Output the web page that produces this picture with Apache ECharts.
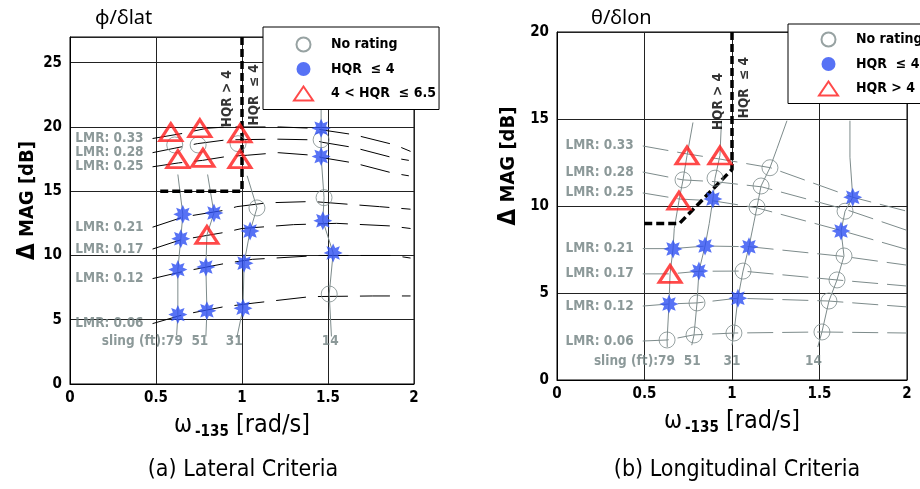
<!DOCTYPE html>
<html><head><meta charset="utf-8">
<script src="https://cdn.jsdelivr.net/npm/echarts@6/dist/echarts.min.js"></script>
<style>html,body{margin:0;padding:0;background:#fff}#c{width:920px;height:489px}</style>
</head><body><div id="c"></div>
<script>
// ---------- tick labels ----------
const xTicks = [0, 0.5, 1, 1.5, 2];
const xTickLabels = ['0', '0.5', '1', '1.5', '2'];
const yTicksLat = [0, 5, 10, 15, 20, 25];
const yTicksLon = [0, 5, 10, 15, 20];

// ---------- text ----------
const lmrNames = ['LMR: 0.33', 'LMR: 0.28', 'LMR: 0.25', 'LMR: 0.21', 'LMR: 0.17', 'LMR: 0.12', 'LMR: 0.06'];
const slingNames = ['sling (ft):79', '51', '31', '14'];
const hqrNames = ['HQR > 4', 'HQR  \u2264 4'];

// ---------- (a) lateral ----------
const latNoRating = [[0.609,18.6],[0.745,18.6],[0.977,18.7],[1.46,19.0],[1.087,13.7],[1.477,14.5],[1.507,7.0]];
const latHQR4 = [[1.46,19.9],[1.46,17.7],[0.656,13.2],[0.837,13.3],[0.644,11.3],[1.047,11.9],[1.47,12.7],[1.53,10.2],
                 [0.627,8.9],[0.79,9.1],[1.012,9.4],[0.627,5.4],[0.796,5.7],[1.006,5.9]];
const latHQR65 = [[0.586,19.6],[0.755,19.9],[0.988,19.5],[0.627,17.5],[0.773,17.6],[0.988,17.5],[0.796,11.6]];

const latLMR033 = [[0.48,19.1],[0.656,19.5],[0.796,19.9],[0.91,20.0],[1.22,20.0],[1.41,19.9],[1.5,19.7],[1.65,19.4],[1.89,18.6],[1.98,18.1]];
const latLMR028 = [[0.48,18.0],[0.61,18.35],[0.74,18.7],[0.91,19.0],[1.21,19.05],[1.41,19.0],[1.47,18.8],[1.65,18.4],[1.88,17.6],[1.97,17.4]];
const latLMR025 = [[0.48,16.9],[0.63,17.2],[0.77,17.4],[0.91,17.7],[1.03,17.8],[1.21,18.0],[1.41,17.8],[1.47,17.6],[1.65,17.2],[1.88,16.4],[1.97,16.2]];
const latLMR021 = [[0.48,12.2],[0.66,13.0],[0.89,13.5],[0.97,13.8],[1.15,14.1],[1.41,14.2],[1.8,13.8],[1.98,13.6]];
const latLMR017 = [[0.48,10.5],[0.64,11.2],[0.9,11.8],[1.0,12.1],[1.3,12.4],[1.55,12.5],[1.86,12.3],[1.98,12.1]];
const latLMR012 = [[0.48,8.2],[0.64,8.7],[0.91,9.4],[1.06,9.7],[1.45,10.0],[1.88,10.0],[1.98,9.8]];
const latLMR006 = [[0.48,4.7],[0.66,5.4],[0.89,6.0],[1.07,6.3],[1.40,6.8],[1.76,6.85],[1.98,6.85]];

const latSling79 = [[0.62,3.8],[0.627,5.4],[0.627,8.9],[0.644,11.3],[0.656,13.2],[0.627,16.3]];
const latSling51 = [[0.79,3.7],[0.796,5.7],[0.79,9.1],[0.796,11.6],[0.837,13.3],[0.80,16.3]];
const latSling31 = [[0.97,3.6],[1.006,5.9],[1.012,9.4],[1.047,11.9],[1.087,13.7],[1.03,16.2]];
const latSling14 = [[1.52,3.7],[1.507,7.0],[1.53,10.2],[1.47,12.7],[1.477,14.5],[1.46,17.7],[1.46,21.5]];

const latBoundary = [[1.0,27],[1.0,15],[0.5,15]];

const latLMRLabelAt = [[0.48,19.1],[0.48,18.0],[0.48,16.9],[0.48,12.2],[0.48,10.5],[0.48,8.2],[0.48,4.7]];
const latSlingLabelAt = [[0.656,3.27],[0.755,3.27],[0.955,3.27],[1.513,3.27]];
const latHQRLabelAt = [[0.918,22.2],[1.07,22.5]];

// ---------- (b) longitudinal ----------
const lonNoRating = [[0.72,11.5],[0.903,11.6],[1.217,12.2],[1.166,11.15],[1.143,9.94],[1.646,9.7],[1.64,7.13],[1.6,5.75],
                     [1.554,4.54],[1.514,2.76],[1.063,6.26],[0.8,4.43],[0.629,2.3],[0.783,2.59],[1.011,2.7]];
const lonHQR4 = [[0.891,10.4],[1.69,10.5],[1.623,8.56],[0.663,7.53],[0.846,7.7],[1.097,7.66],[0.811,6.26],[0.64,4.37],[1.034,4.7]];
const lonHQRgt4 = [[0.743,12.9],[0.931,12.9],[0.697,10.3],[0.646,6.1]];

const lonLMR033 = [[0.49,13.45],[0.74,13.0],[0.93,12.7],[1.22,12.2],[1.69,10.5],[2.0,9.7]];
const lonLMR028 = [[0.49,11.95],[0.72,11.5],[0.9,11.4],[1.17,11.1],[1.65,9.8],[2.0,8.6]];
const lonLMR025 = [[0.49,10.75],[0.7,10.4],[0.89,10.3],[1.14,9.9],[1.62,8.6],[2.0,7.5]];
const lonLMR021 = [[0.49,7.55],[0.66,7.55],[0.85,7.7],[1.1,7.66],[1.64,7.1],[2.0,6.6]];
const lonLMR017 = [[0.49,6.1],[0.65,6.1],[0.81,6.25],[1.06,6.26],[1.6,5.75],[2.0,5.4]];
const lonLMR012 = [[0.49,4.25],[0.64,4.37],[0.8,4.43],[1.03,4.7],[1.55,4.54],[2.0,4.2]];
const lonLMR006 = [[0.49,2.24],[0.63,2.3],[0.78,2.59],[1.01,2.7],[1.51,2.76],[2.0,2.7]];

const lonSling79 = [[0.63,1.9],[0.629,2.3],[0.64,4.37],[0.646,6.1],[0.663,7.53],[0.67,8.7],[0.697,10.3],[0.72,11.5],[0.743,12.9],[0.777,14.8]];
const lonSling51 = [[0.77,2.0],[0.783,2.59],[0.8,4.43],[0.811,6.26],[0.846,7.7],[0.87,9.0],[0.891,10.4],[0.903,11.6],[0.931,12.9],[0.94,14.9]];
const lonSling31 = [[1.0,2.0],[1.011,2.7],[1.034,4.7],[1.063,6.26],[1.097,7.66],[1.12,8.8],[1.143,9.94],[1.166,11.15],[1.217,12.2],[1.257,13.3],[1.314,14.9]];
const lonSling14 = [[1.49,1.9],[1.514,2.76],[1.554,4.54],[1.6,5.75],[1.64,7.13],[1.623,8.56],[1.646,9.7],[1.69,10.5],[1.674,12.8],[1.674,14.9]];

const lonBoundary = [[1.0,20],[1.0,12.1],[0.7,9.0],[0.49,9.0]];

const lonLMRLabelAt = [[0.49,13.45],[0.49,11.95],[0.49,10.75],[0.49,7.55],[0.49,6.1],[0.49,4.25],[0.49,2.24]];
const lonSlingLabelAt = [[0.674,1.09],[0.773,1.09],[1.0,1.09],[1.465,1.09]];
const lonHQRLabelAt = [[0.92,16.0],[1.07,16.8]];

// ---------- styling ----------
const FONT = "'Liberation Sans Narrow','DejaVu Sans Condensed','Liberation Sans',sans-serif";
const GRAY = '#7d8b8b';
const GTEXT = '#6f7f7f';
const BLUE = '#2d4ff2';
const RED = '#ff1c1c';

function starPath(n, rin) {
  let d = '';
  for (let i = 0; i < 2 * n; i++) {
    const a = -Math.PI / 2 + i * Math.PI / n;
    const r = i % 2 ? rin : 1;
    const x = (50 + 50 * r * Math.cos(a)).toFixed(2), y = (50 + 50 * r * Math.sin(a)).toFixed(2);
    d += (i === 0 ? 'M' : 'L') + x + ' ' + y + ' ';
  }
  return 'path://' + d + 'Z';
}
const STAR = starPath(8, 0.56);

function line(data, g, color, width, type, z) {
  return {type: 'line', xAxisIndex: g, yAxisIndex: g, data, symbol: 'none', silent: true,
          lineStyle: {color, width, type}, z: z || 2, animation: false};
}
function textSeries(coords, texts, g, extra) {
  return Object.assign({type: 'scatter', xAxisIndex: g, yAxisIndex: g, silent: true, symbolSize: 0, z: 6,
    data: coords.map((c, i) => ({value: c, name: texts[i]}))}, extra);
}
function lmrLabels(coords, g) {
  return textSeries(coords, lmrNames, g, {label: {show: true, position: 'left', distance: 9, formatter: p => p.name,
    color: GTEXT, fontSize: 13.5, fontWeight: 'bold', fontFamily: FONT}});
}
function slingLabels(coords, g) {
  return textSeries(coords, slingNames, g, {data: coords.map((c, i) => ({value: c, name: slingNames[i],
      label: {align: i === 0 ? 'right' : 'center'}})),
    label: {show: true, position: 'inside', formatter: p => p.name, verticalAlign: 'middle',
      color: GTEXT, fontSize: 13.5, fontWeight: 'bold', fontFamily: FONT}});
}
function hqrLabels(coords, g) {
  return textSeries(coords, hqrNames, g, {label: {show: true, position: 'inside', rotate: 90, formatter: p => p.name,
    color: '#000', fontSize: 13.5, fontWeight: 'bold', fontFamily: FONT}});
}
function scatter(name, data, g, kind) {
  const s = {type: 'scatter', name, data, xAxisIndex: g, yAxisIndex: g, z: 5, animation: false};
  if (kind === 'circle') {
    s.symbol = 'circle'; s.symbolSize = 16;
    s.itemStyle = {color: 'rgba(255,255,255,0)', borderColor: GRAY, borderWidth: 1};
  } else if (kind === 'star') {
    s.symbol = STAR; s.symbolSize = 19; s.itemStyle = {color: BLUE};
  } else {
    s.symbol = 'triangle'; s.symbolSize = [22, 17];
    s.itemStyle = {color: 'rgba(255,255,255,0)', borderColor: RED, borderWidth: 3};
  }
  return s;
}

const axisLabelStyle = {fontSize: 15, fontWeight: 'bold', fontFamily: FONT, color: '#000'};
function xAxis(g) {
  return {gridIndex: g, type: 'value', min: 0, max: 2, interval: 0.5,
    axisLine: {show: true, lineStyle: {color: '#000', width: 1}}, axisTick: {show: false},
    splitLine: {show: true, lineStyle: {color: '#222', width: 1}},
    axisLabel: Object.assign({margin: 7, formatter: v => { const i = xTicks.indexOf(v); return i >= 0 ? xTickLabels[i] : ''; }}, axisLabelStyle),
    name: '{w|\u03c9}{s|-135}{r| [rad/s]}', nameLocation: 'middle', nameGap: 27,
    nameTextStyle: {rich: {
      w: {fontSize: 24, fontFamily: FONT, color: '#000', verticalAlign: 'middle', lineHeight: 28},
      s: {fontSize: 15, fontWeight: 'bold', fontFamily: FONT, color: '#000', padding: [14, 0, 0, 3], lineHeight: 14},
      r: {fontSize: 25, fontFamily: FONT, color: '#000', verticalAlign: 'middle', lineHeight: 28}}}};
}
function yAxis(g, max, ticks, pad, gap) {
  return {gridIndex: g, type: 'value', min: 0, max, interval: 5,
    axisLine: {show: true, lineStyle: {color: '#000', width: 1}}, axisTick: {show: false},
    splitLine: {show: true, lineStyle: {color: '#222', width: 1}},
    axisLabel: Object.assign({margin: 8, showMaxLabel: max % 5 === 0,
      formatter: v => ticks.indexOf(v) >= 0 ? String(v) : ''}, axisLabelStyle),
    name: '{d|\u0394} MAG [dB]', nameLocation: 'middle', nameGap: gap,
    nameTextStyle: {fontSize: 20, fontWeight: 'bold', fontFamily: FONT, color: '#000', padding: [0, 0, 0, pad],
      rich: {d: {fontSize: 24, fontFamily: FONT, color: '#000'}}}};
}

const legendBase = {orient: 'vertical', borderColor: '#000', borderWidth: 1, backgroundColor: '#fff',
  itemWidth: 19, itemHeight: 14, itemGap: 9.5, selectedMode: false,
  textStyle: {fontSize: 14, fontWeight: 'bold', fontFamily: FONT, color: '#000', padding: [0, 0, 0, 13], lineHeight: 14}};

const chart = echarts.init(document.getElementById('c'), null, {renderer: 'canvas'});
chart.setOption({
  animation: false,
  backgroundColor: '#fff',
  grid: [
    {left: 70, top: 37, width: 344, height: 347, show: true, borderColor: '#000', borderWidth: 1, backgroundColor: 'transparent'},
    {left: 557, top: 32, width: 350, height: 348, show: true, borderColor: '#000', borderWidth: 1, backgroundColor: 'transparent'}
  ],
  xAxis: [xAxis(0), xAxis(1)],
  yAxis: [yAxis(0, 27, yTicksLat, 20, 30), yAxis(1, 20, yTicksLon, 80, 36)],
  legend: [
    Object.assign({}, legendBase, {left: 263, top: 27, padding: [9.5, 3, 8, 30],
      data: ['No rating', {name: 'HQR  \u2264 4', icon: 'circle'}, '4 < HQR  \u2264 6.5']}),
    Object.assign({}, legendBase, {left: 788, top: 24, padding: [7.5, 30, 7, 30],
      data: ['No rating', {name: 'HQR  \u2264 4', icon: 'circle'}, 'HQR > 4']})
  ],
  graphic: [
    {type: 'text', left: 95, top: 8, style: {text: '\u03d5/\u03b4lat', fontSize: 20, fontFamily: "'Noto Sans','Liberation Sans',sans-serif", fill: '#000'}},
    {type: 'text', left: 591, top: 8, style: {text: '\u03b8/\u03b4lon', fontSize: 20, fontFamily: "'Noto Sans','Liberation Sans',sans-serif", fill: '#000'}},
    {type: 'text', x: 243, y: 470, style: {text: '(a) Lateral Criteria', fontSize: 23, fontFamily: FONT, fill: '#000', align: 'center', verticalAlign: 'middle'}},
    {type: 'text', x: 737, y: 470, style: {text: '(b) Longitudinal Criteria', fontSize: 23, fontFamily: FONT, fill: '#000', align: 'center', verticalAlign: 'middle'}}
  ],
  series: [
    // (a) lateral
    ...[latLMR033, latLMR028, latLMR025, latLMR021, latLMR017, latLMR012, latLMR006].map(d => line(d, 0, '#000', 1, [30, 12])),
    ...[latSling79, latSling51, latSling31, latSling14].map(d => line(d, 0, GRAY, 1, 'solid')),
    line(latBoundary, 0, '#000', 3.5, [8, 4], 3),
    scatter('No rating', latNoRating, 0, 'circle'),
    scatter('HQR  \u2264 4', latHQR4, 0, 'star'),
    scatter('4 < HQR  \u2264 6.5', latHQR65, 0, 'tri'),
    lmrLabels(latLMRLabelAt, 0),
    slingLabels(latSlingLabelAt, 0),
    hqrLabels(latHQRLabelAt, 0),
    // (b) longitudinal
    ...[lonLMR033, lonLMR028, lonLMR025, lonLMR021, lonLMR017, lonLMR012, lonLMR006].map(d => line(d, 1, GRAY, 1, [26, 9])),
    ...[lonSling79, lonSling51, lonSling31, lonSling14].map(d => line(d, 1, GRAY, 1, 'solid')),
    line(lonBoundary, 1, '#000', 3.5, [8, 4], 3),
    scatter('No rating', lonNoRating, 1, 'circle'),
    scatter('HQR  \u2264 4', lonHQR4, 1, 'star'),
    scatter('HQR > 4', lonHQRgt4, 1, 'tri'),
    lmrLabels(lonLMRLabelAt, 1),
    slingLabels(lonSlingLabelAt, 1),
    hqrLabels(lonHQRLabelAt, 1)
  ]
});
</script></body></html>
